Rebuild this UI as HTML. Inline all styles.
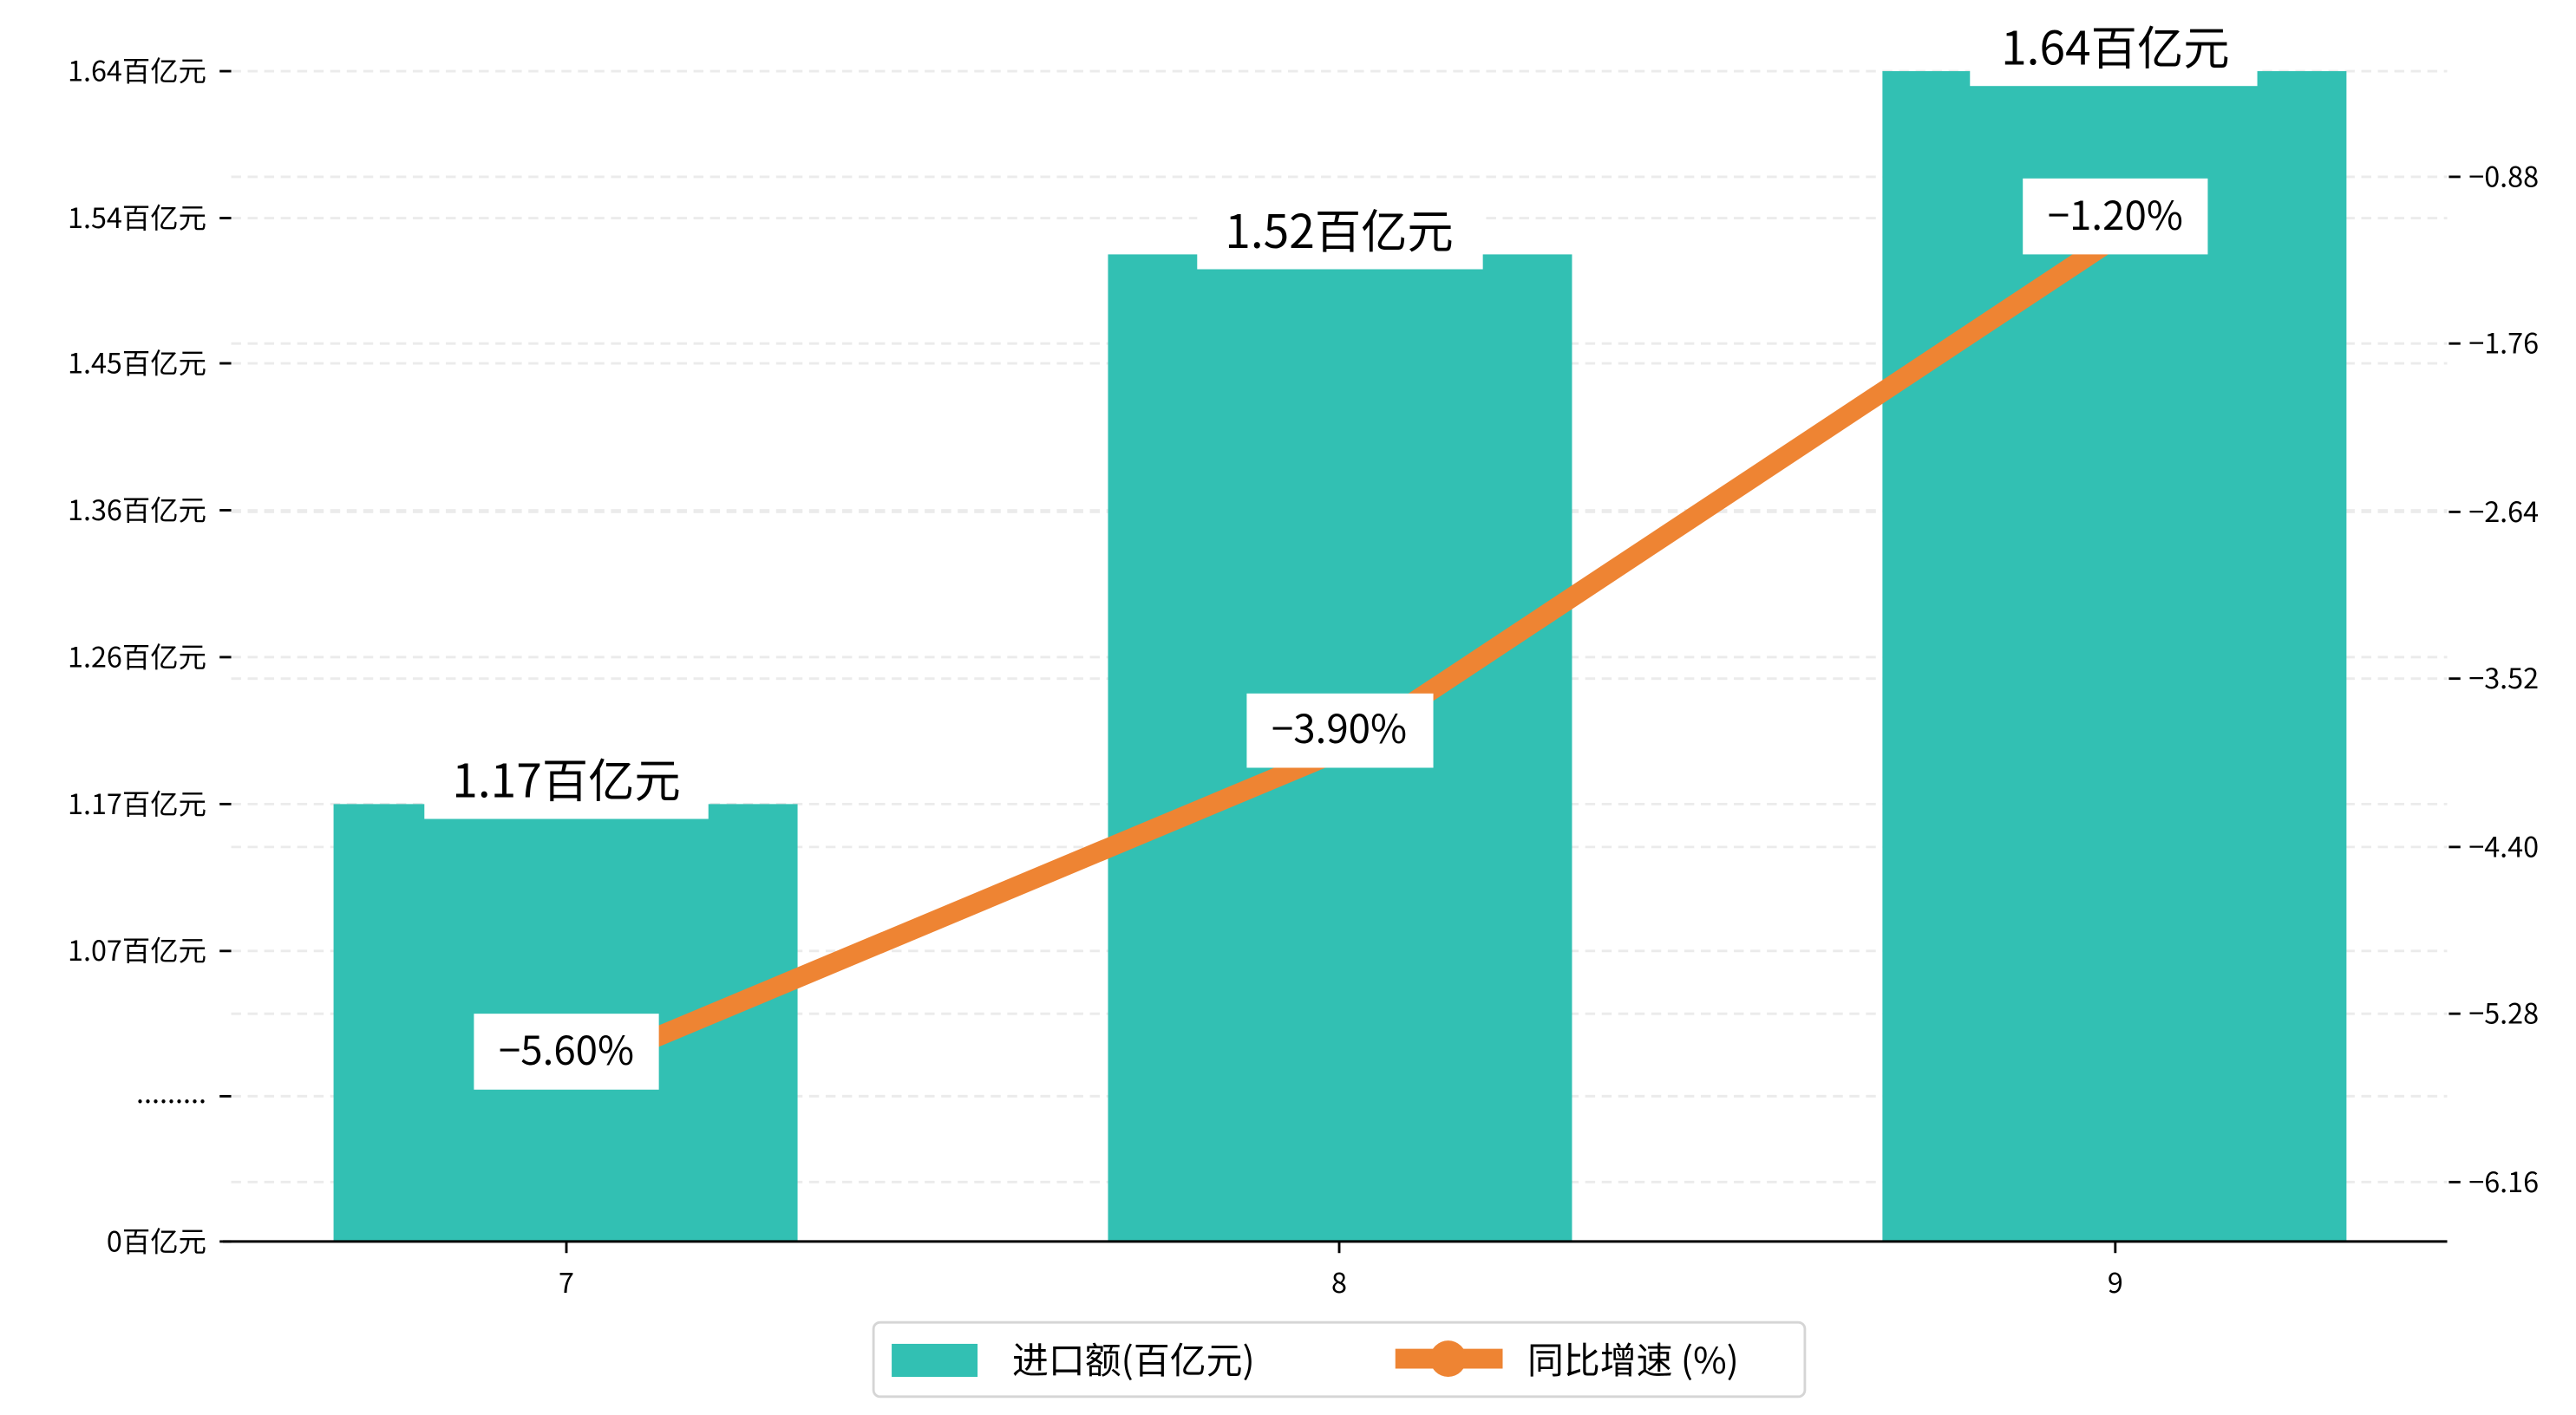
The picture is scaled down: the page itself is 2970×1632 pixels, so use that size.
<!DOCTYPE html>
<html><head><meta charset="utf-8"><style>
html,body{margin:0;padding:0;background:#fff;}
svg{display:block;}
text{font-family:"WenQuanYi Zen Hei","Noto Sans CJK SC",sans-serif;fill:#000;}
</style></head><body>
<svg width="2970" height="1632" viewBox="0 0 1560 857" xmlns="http://www.w3.org/2000/svg">
<rect width="1560" height="857" fill="#fff"/>
<g stroke="#ebebeb" stroke-width="1.5" stroke-dasharray="6,4">
<line x1="140" x2="1482" y1="43" y2="43"/><line x1="140" x2="1482" y1="107" y2="107"/>
<line x1="140" x2="1482" y1="132" y2="132"/><line x1="140" x2="1482" y1="208" y2="208"/>
<line x1="140" x2="1482" y1="220" y2="220"/><line x1="140" x2="1482" y1="309" y2="309"/>
<line x1="140" x2="1482" y1="310" y2="310"/><line x1="140" x2="1482" y1="398" y2="398"/>
<line x1="140" x2="1482" y1="411" y2="411"/><line x1="140" x2="1482" y1="487" y2="487"/>
<line x1="140" x2="1482" y1="513" y2="513"/><line x1="140" x2="1482" y1="576" y2="576"/>
<line x1="140" x2="1482" y1="614" y2="614"/><line x1="140" x2="1482" y1="664" y2="664"/>
<line x1="140" x2="1482" y1="716" y2="716"/>
</g>
<g fill="#32c0b3">
<rect x="202" y="487" width="281" height="265"/>
<rect x="671" y="154" width="281" height="598"/>
<rect x="1140" y="43" width="281" height="709"/>
</g>
<line x1="135" x2="1482" y1="752" y2="752" stroke="#000" stroke-width="1.6"/>
<g stroke="#000" stroke-width="1.5">
<line x1="133" x2="140" y1="43" y2="43"/><line x1="133" x2="140" y1="132" y2="132"/>
<line x1="133" x2="140" y1="220" y2="220"/><line x1="133" x2="140" y1="309" y2="309"/>
<line x1="133" x2="140" y1="398" y2="398"/><line x1="133" x2="140" y1="487" y2="487"/>
<line x1="133" x2="140" y1="576" y2="576"/><line x1="133" x2="140" y1="664" y2="664"/>
<line x1="133" x2="140" y1="752" y2="752"/>
<line x1="1483" x2="1490" y1="107" y2="107"/><line x1="1483" x2="1490" y1="208" y2="208"/>
<line x1="1483" x2="1490" y1="310" y2="310"/><line x1="1483" x2="1490" y1="411" y2="411"/>
<line x1="1483" x2="1490" y1="513" y2="513"/><line x1="1483" x2="1490" y1="614" y2="614"/>
<line x1="1483" x2="1490" y1="716" y2="716"/>
<line x1="343" x2="343" y1="752" y2="759"/><line x1="811" x2="811" y1="752" y2="759"/><line x1="1281" x2="1281" y1="752" y2="759"/>
</g>
<g font-size="17" text-anchor="end">
<text x="125" y="49">1.64百亿元</text><text x="125" y="138">1.54百亿元</text>
<text x="125" y="226">1.45百亿元</text><text x="125" y="315">1.36百亿元</text>
<text x="125" y="404">1.26百亿元</text><text x="125" y="493">1.17百亿元</text>
<text x="125" y="582">1.07百亿元</text><text x="125" y="668">.........</text>
<text x="125" y="758">0百亿元</text>
</g>
<g font-size="17">
<text x="1495" y="113">−0.88</text><text x="1495" y="214">−1.76</text>
<text x="1495" y="316">−2.64</text><text x="1495" y="417">−3.52</text>
<text x="1495" y="519">−4.40</text><text x="1495" y="620">−5.28</text>
<text x="1495" y="722">−6.16</text>
</g>
<g font-size="17" text-anchor="middle">
<text x="343" y="783">7</text><text x="811" y="783">8</text><text x="1281" y="783">9</text>
</g>
<polyline points="343,651 811,455 1281,144" fill="none" stroke="#ee8433" stroke-width="12" stroke-linejoin="round"/>
<g fill="#fff">
<rect x="257" y="456" width="172" height="40"/>
<rect x="725" y="122" width="173" height="41"/>
<rect x="1193" y="12" width="174" height="40"/>
<rect x="1225" y="108" width="112" height="46"/>
<rect x="755" y="420" width="113" height="45"/>
<rect x="287" y="614" width="112" height="46"/>
</g>
<g font-size="28" text-anchor="middle">
<text x="343" y="483">1.17百亿元</text>
<text x="811" y="150">1.52百亿元</text>
<text x="1281" y="39">1.64百亿元</text>
</g>
<g font-size="24" text-anchor="middle">
<text x="1281" y="139">−1.20%</text>
<text x="811" y="450">−3.90%</text>
<text x="343" y="645">−5.60%</text>
</g>
<rect x="529" y="801" width="564" height="45" rx="4" fill="#fff" stroke="#d5d5d5" stroke-width="1.5"/>
<rect x="540" y="814" width="52" height="20" fill="#32c0b3"/>
<line x1="845" x2="910" y1="823" y2="823" stroke="#ee8433" stroke-width="12"/>
<circle cx="877" cy="823" r="11" fill="#ee8433"/>
<g font-size="22">
<text x="613" y="832">进口额(百亿元)</text>
<text x="925" y="832">同比增速 (%)</text>
</g>
</svg>
</body></html>
